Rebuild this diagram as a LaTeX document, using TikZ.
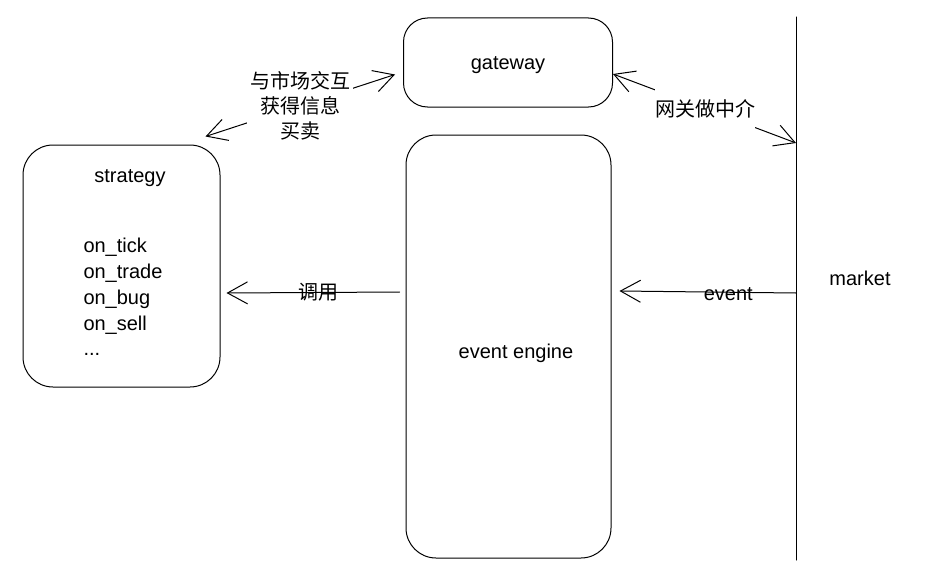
\documentclass[tikz,border=0pt]{standalone}
\usepackage{fontspec}
\setmainfont{Liberation Sans}
\newfontfamily\cjk{Noto Sans CJK SC}
\usetikzlibrary{arrows.meta}
\begin{document}
\begin{tikzpicture}[x=1pt,y=-1pt,line width=1pt,line cap=round,line join=round,
  box/.style={draw,rounded corners=24pt,line width=1pt},
  lbl/.style={font=\fontsize{20}{24}\selectfont},
  cjklbl/.style={font=\cjk\fontsize{20}{25}\selectfont},
  tip/.tip={Straight Barb[length=20pt,width=22pt]},
  arr/.style={-tip},
  darr/.style={tip-tip}]
\useasboundingbox (0,0) rectangle (934,578);
% boxes
\node[box,minimum width=209pt,minimum height=89pt] (gw) at (508,62.5) {};
\node[lbl] (gwt) at (508,65) {gateway};
\node[box,rounded corners=30pt,minimum width=205pt,minimum height=423pt] (eng) at (508.5,346.5) {};
\node[lbl] (engt) at (516,353) {event engine};
\node[box,rounded corners=30pt,minimum width=197pt,minimum height=242pt] (strat) at (121.5,266) {};
\node[lbl] (stitle) at (130,178) {strategy};
\node[align=left,anchor=north west,inner sep=0pt,font=\fontsize{20}{25.7}\selectfont] (slist) at (83,238)
  {on\_tick\\on\_trade\\on\_bug\\on\_sell\\...};
% market
\coordinate (mtop) at (796,17);
\coordinate (mbot) at (796,560);
\coordinate (mk1) at (796,143);
\coordinate (mk2) at (796,293);
\draw (mtop) -- (mbot);
\node[lbl] (mlbl) at (860,278) {market};
% connectors
\draw[darr] ([shift={(-8,12)}]gw.west) -- node[cjklbl,fill=white,align=center,inner sep=3pt] (lab1) {与市场交互\\获得信息\\买卖} ([shift={(-15,-8)}]strat.north east);
\draw[darr] ([shift={(0,11.5)}]gw.east) -- node[pos=0.505,cjklbl,fill=white,minimum width=100pt,minimum height=40pt,inner sep=0pt] (lab2) {网关做中介} (mk1);
\draw[arr] (mk2) -- node[pos=0.384,lbl,yshift=-2pt] (evl) {event} ([shift={(8,-55.5)}]eng.east);
\draw[arr] ([shift={(-6,-54.5)}]eng.west) -- node[pos=0.466,cjklbl] (cl) {调用} ([shift={(6,27)}]strat.east);
\end{tikzpicture}
\end{document}
